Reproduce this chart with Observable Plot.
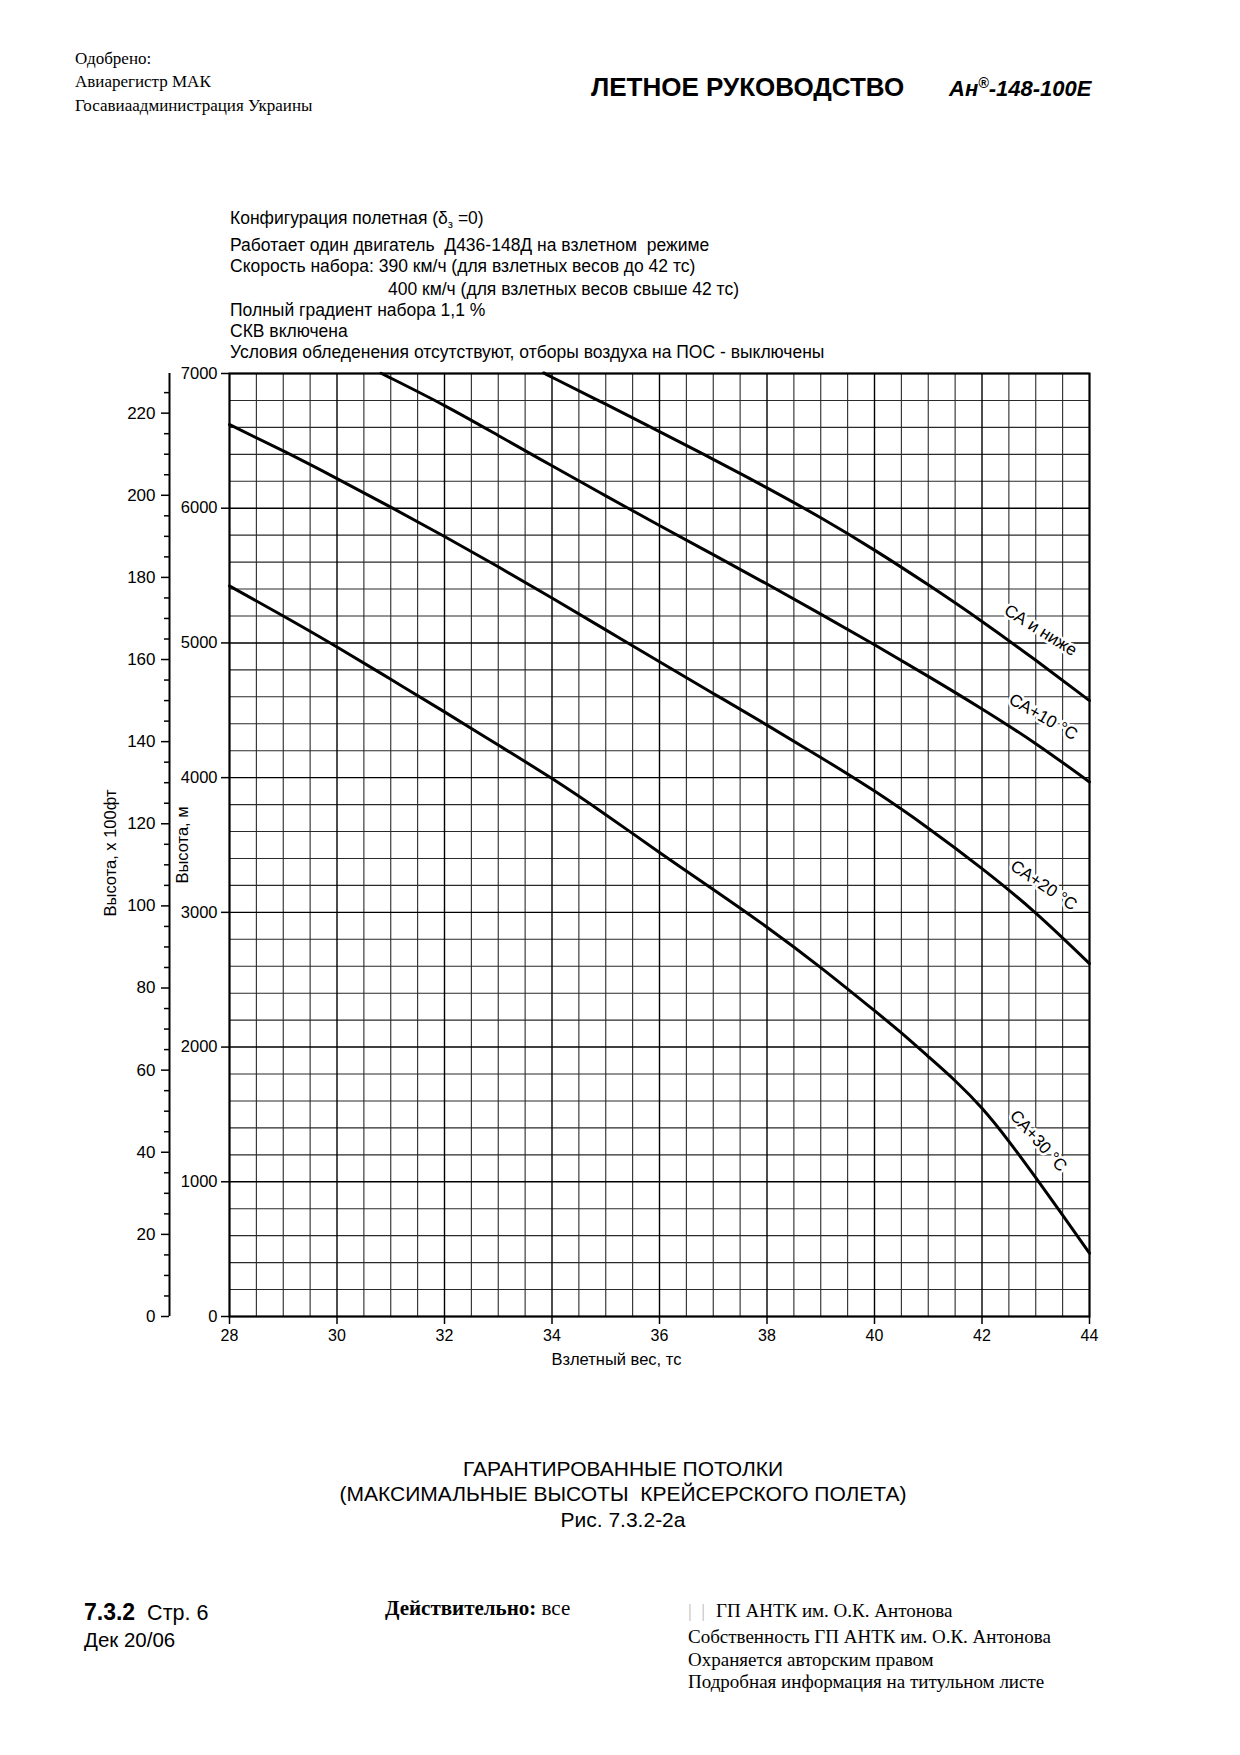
<!DOCTYPE html>
<html><head><meta charset="utf-8">
<script src="https://cdn.jsdelivr.net/npm/d3@7"></script>
<script src="https://cdn.jsdelivr.net/npm/@observablehq/plot@0.6"></script>
<style>
html,body{margin:0;padding:0;background:#fff;}
#page{position:relative;width:1240px;height:1755px;overflow:hidden;font-family:"Liberation Sans",Arial,sans-serif;color:#000;background:#fff;}
.t{position:absolute;white-space:pre;line-height:1;}
.serif{font-family:"Liberation Serif","Times New Roman",serif;}
#chart{position:absolute;left:0;top:340px;}
sub{font-size:65%;vertical-align:-4px;line-height:0;}
sup{font-size:65%;vertical-align:8px;line-height:0;}
</style></head><body><div id="page"></div>
<script>
// ---------------- data ----------------
const xTicks = [28, 30, 32, 34, 36, 38, 40, 42, 44];           // Взлетный вес, тс
const mTicks = [0, 1000, 2000, 3000, 4000, 5000, 6000, 7000];  // Высота, м
const ftMajor = [0, 20, 40, 60, 80, 100, 120, 140, 160, 180, 200, 220]; // x100 фт
const ftMinor = d3.range(0, 226, 5).filter(v => v % 20 !== 0);

const seriesNames = ["СА и ниже", "СА+10 °С", "СА+20 °С", "СА+30 °С"];

const wISA0  = [33.87, 34, 35, 36, 37, 38, 39, 40, 41, 42, 43, 44];
const hISA0  = [7000, 6972, 6772, 6569, 6363, 6151, 5929, 5689, 5431, 5159, 4871, 4572];

const wISA10 = [30.83, 31, 32, 33, 34, 35, 36, 37, 38, 39, 40, 41, 42, 43, 44];
const hISA10 = [7000, 6966, 6762, 6540, 6315, 6092, 5872, 5655, 5437, 5214, 4986, 4752, 4510, 4252, 3968];

const wISA20 = [28, 29, 30, 31, 32, 33, 34, 35, 36, 37, 38, 39, 40, 41, 42, 43, 44];
const hISA20 = [6621, 6425, 6220, 6008, 5790, 5565, 5333, 5097, 4860, 4625, 4390, 4150, 3900, 3625, 3325, 2995, 2620];

const wISA30 = [28, 29, 30, 31, 32, 33, 34, 35, 36, 37, 38, 39, 40, 40.5, 41, 41.5, 42, 42.5, 43, 43.5, 44];
const hISA30 = [5423, 5200, 4970, 4730, 4488, 4242, 3993, 3725, 3445, 3170, 2890, 2590, 2270, 2105, 1930, 1750, 1545, 1300, 1030, 752, 470];

// label anchors (data units)
const labelW = [43.09, 43.14, 43.15, 43.05];
const labelH = [5094, 4451, 3200, 1304];

// ---------------- page texts ----------------
const page = document.getElementById("page");
function put(html, x, y, fs, opts = {}) {
  const d = document.createElement("div");
  d.className = "t" + (opts.serif ? " serif" : "");
  d.innerHTML = html;
  d.style.fontSize = fs + "px";
  d.style.left = x + "px";
  d.style.top = (y - fs * 0.52) + "px";
  if (opts.bold) d.style.fontWeight = "bold";
  if (opts.italic) d.style.fontStyle = "italic";
  if (opts.center) d.style.transform = "translateX(-50%)";
  if (opts.style) Object.assign(d.style, opts.style);
  page.appendChild(d);
  return d;
}

put("Одобрено:", 75, 59, 17, {serif: true});
put("Авиарегистр МАК", 75, 82, 17, {serif: true});
put("Госавиаадминистрация Украины", 75, 106, 17, {serif: true});
put("ЛЕТНОЕ РУКОВОДСТВО", 591, 88, 26, {bold: true});
put("Ан<sup>®</sup>-148-100Е", 949, 89, 22, {bold: true, italic: true});

const af = 17.5;
put("Конфигурация полетная (δ<sub>з</sub> =0)", 230, 219, af);
put("Работает один двигатель  Д436-148Д на взлетном  режиме", 230, 246, af);
put("Скорость набора: 390 км/ч (для взлетных весов до 42 тс)", 230, 267, af);
put("400 км/ч (для взлетных весов свыше 42 тс)", 388, 290, af);
put("Полный градиент набора 1,1 %", 230, 311, af);
put("СКВ включена", 230, 332, af);
put("Условия обледенения отсутствуют, отборы воздуха на ПОС - выключены", 230, 353, af);

put("ГАРАНТИРОВАННЫЕ ПОТОЛКИ", 623, 1469, 21, {center: true});
put("(МАКСИМАЛЬНЫЕ ВЫСОТЫ  КРЕЙСЕРСКОГО ПОЛЕТА)", 623, 1494, 21, {center: true});
put("Рис. 7.3.2-2а", 623, 1520, 21, {center: true});

put("<b style='font-size:23px'>7.3.2</b>  Стр. 6", 84, 1612, 21.5);
put("Дек 20/06", 84, 1641, 20.5);
put("<b>Действительно:</b> все", 385, 1609, 21, {serif: true});
put("<span style='color:#bbb'>|</span>  <span style='color:#bbb'>|</span>", 688, 1611, 19, {serif: true});
put("ГП АНТК им. О.К. Антонова", 716, 1611, 19, {serif: true});
put("Собственность ГП АНТК им. О.К. Антонова", 688, 1637, 19, {serif: true});
put("Охраняется авторским правом", 688, 1660, 19, {serif: true});
put("Подробная информация на титульном листе", 688, 1682, 19, {serif: true});

// ---------------- chart ----------------
const series = [
  {name: seriesNames[0], w: wISA0, h: hISA0},
  {name: seriesNames[1], w: wISA10, h: hISA10},
  {name: seriesNames[2], w: wISA20, h: hISA20},
  {name: seriesNames[3], w: wISA30, h: hISA30}
];
const lineData = series.flatMap(s => s.w.map((w, i) => ({name: s.name, w, h: s.h[i]})));
const labels = seriesNames.map((name, i) => ({name, w: labelW[i], h: labelH[i]}));
const angles = [32, 30, 34, 48];

const gridXminor = d3.range(28, 44.001, 0.5).filter(v => v % 2 !== 0);
const gridYminor = d3.range(0, 7001, 200).filter(v => v % 1000 !== 0);

const chart = Plot.plot({
  width: 1240,
  height: 1046,
  marginLeft: 229,
  marginRight: 151,
  marginTop: 33,
  marginBottom: 70,
  style: {fontFamily: "'Liberation Sans', Arial, sans-serif", fontSize: "16px", color: "#000", background: "transparent"},
  x: {domain: [28, 44], axis: null},
  y: {domain: [0, 7000], axis: null},
  marks: [
    Plot.ruleX(gridXminor, {stroke: "#2a2a2a", strokeWidth: 1.1}),
    Plot.ruleY(gridYminor, {stroke: "#2a2a2a", strokeWidth: 1.1}),
    Plot.ruleX(xTicks, {stroke: "#000", strokeWidth: 1.4}),
    Plot.ruleY(mTicks, {stroke: "#000", strokeWidth: 1.4}),
    Plot.frame({stroke: "#000", strokeWidth: 2}),
    Plot.axisX(xTicks, {anchor: "bottom", tickSize: 8, tickPadding: 5, fontSize: 16, label: null, tickFormat: d => String(d), strokeWidth: 1.5}),
    Plot.axisY(mTicks, {anchor: "left", tickSize: 8, tickPadding: 4, fontSize: 16.5, label: null, tickFormat: d => String(d), strokeWidth: 1.5}),
    // second axis: hundreds of feet
    Plot.ruleX([28], {y1: 0, y2: 7000, dx: -60, stroke: "#000", strokeWidth: 2}),
    Plot.axisY(ftMajor.map(v => v * 30.48), {anchor: "left", dx: -60, tickSize: 8, tickPadding: 6, fontSize: 17, label: null, tickFormat: d => String(Math.round(d / 30.48)), strokeWidth: 1.5}),
    Plot.axisY(ftMinor.map(v => v * 30.48), {anchor: "left", dx: -60, tickSize: 5, fill: "none", label: null, strokeWidth: 1.5}),
    // axis titles
    Plot.text(["Высота, м"], {frameAnchor: "left", textAnchor: "middle", dx: -47, rotate: -90, fontSize: 16.5, fill: "#000"}),
    Plot.text(["Высота, х 100фт"], {frameAnchor: "left", textAnchor: "middle", dx: -119, dy: 8, rotate: -90, fontSize: 16.5, fill: "#000"}),
    Plot.text(["Взлетный вес, тс"], {frameAnchor: "bottom", textAnchor: "middle", dx: -43, dy: 48, fontSize: 16.5, fill: "#000"}),
    // curves
    Plot.line(lineData, {x: "w", y: "h", z: "name", stroke: "#000", strokeWidth: 3, curve: "natural"}),
    // curve labels
    Plot.text(labels, {x: "w", y: "h", text: "name", rotate: (d, i) => angles[i], fontSize: 17, fill: "#000", stroke: "#fff", strokeWidth: 5})
  ]
});
chart.id = "chart";
page.appendChild(chart);
</script></body></html>
